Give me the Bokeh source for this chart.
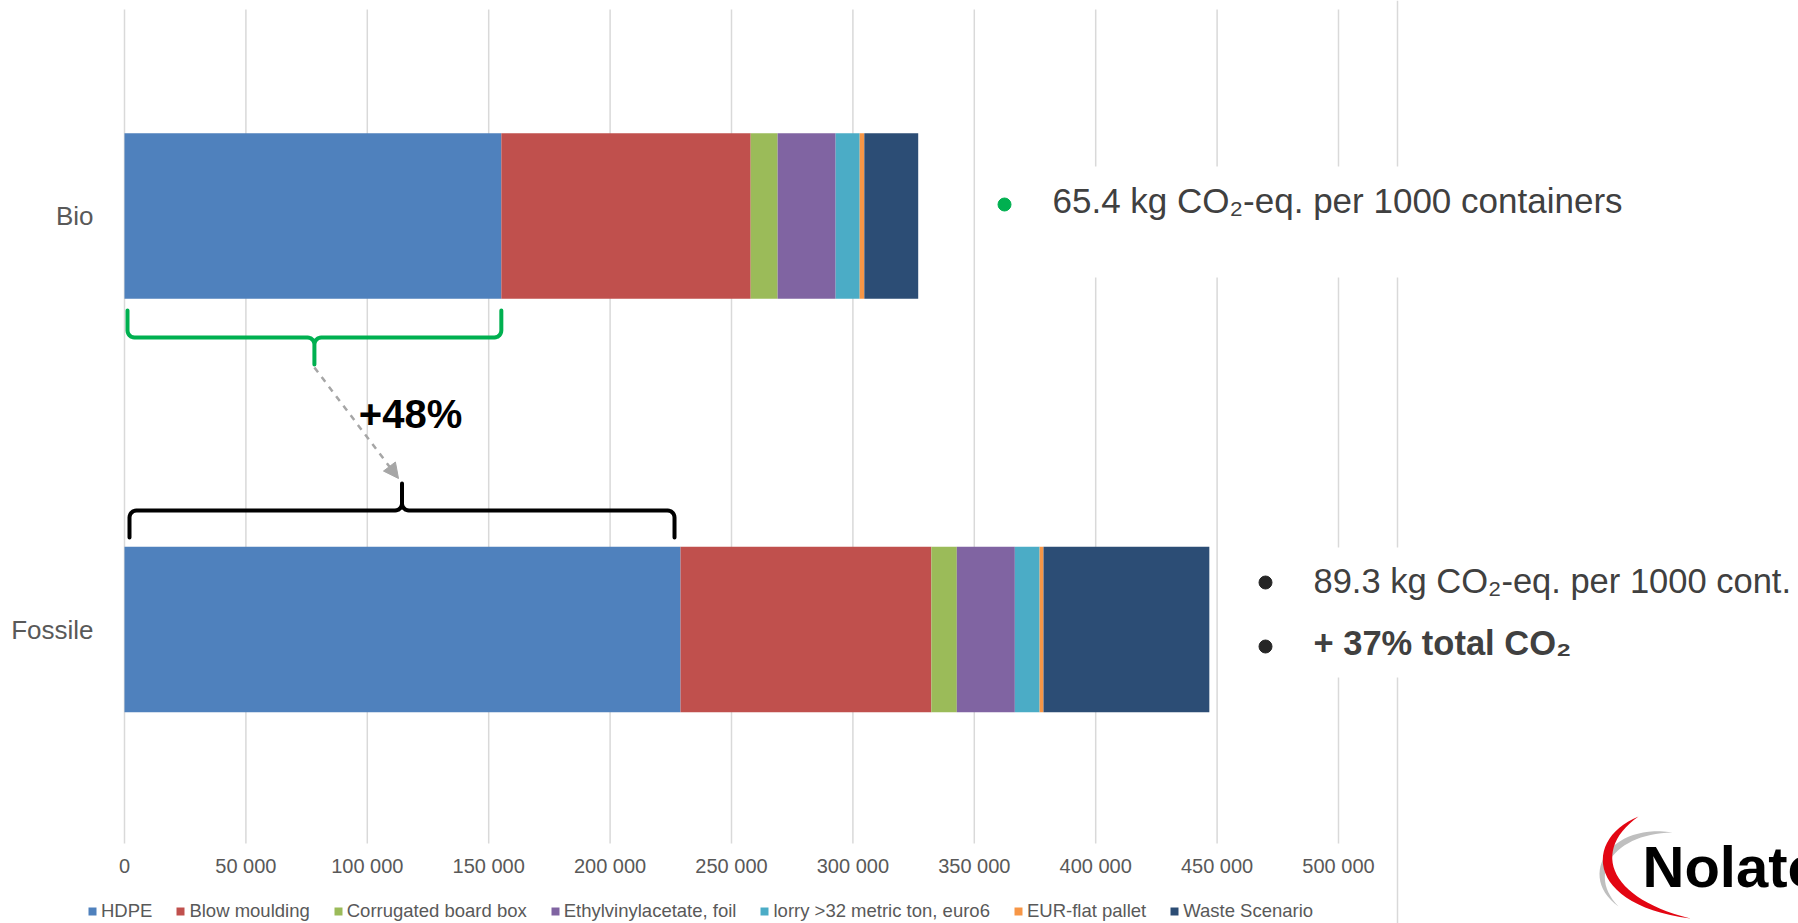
import numpy as np
from bokeh.plotting import figure
from bokeh.models import (ColumnDataSource, Range1d, FixedTicker, Span, Label,
                          Arrow, NormalHead, PolyAnnotation)
from bokeh.core.properties import value
from bokeh.embed import file_html
from bokeh.resources import INLINE

# ---------------- data ----------------
categories = ["Bio", "Fossile"]
series = ["HDPE", "Blow moulding", "Corrugated board box", "Ethylvinylacetate, foil",
          "lorry >32 metric ton, euro6", "EUR-flat pallet", "Waste Scenario"]
bio_values = [155200, 102700, 11100, 23900, 9900, 1900, 22200]
fossile_values = [229000, 103300, 10500, 23900, 10200, 1600, 68300]
colors = ["#4F81BD", "#C0504D", "#9BBB59", "#8064A2", "#4BACC6", "#F79646", "#2C4D75"]
x_ticks = [0, 50000, 100000, 150000, 200000, 250000, 300000, 350000, 400000, 450000, 500000]
x_tick_labels = ["0", "50 000", "100 000", "150 000", "200 000", "250 000", "300 000",
                 "350 000", "400 000", "450 000", "500 000"]
bio_note = "65.4 kg CO\u2082-eq. per 1000 containers"
fossile_note = "89.3 kg CO\u2082-eq. per 1000 cont."
fossile_note_bold = "+ 37% total CO\u2082"
increase_label = "+48%"
logo_text = "Nolato"

FONT = "Liberation Sans"
W, H = 1798, 923

# ---------------- canvas px <-> data helpers (for annotation placement) ----------------
K = 1214 / 500000.0      # px per unit
X0PX = 124.0             # canvas x of value 0
Y1PX = 629.0             # canvas y of category position 1
UNIT = 413.5             # px per category unit


def px2x(px):
    return (px - X0PX) / K


def px2y(py):
    return 1 + (Y1PX - py) / UNIT


y_pos = [len(categories) - i for i in range(len(categories))]  # Bio=2, Fossile=1

data = {"y": y_pos}
for i, s in enumerate(series):
    data[s] = [bio_values[i], fossile_values[i]]
source = ColumnDataSource(data)

p = figure(width=W, height=H, output_backend="svg", toolbar_location=None,
           x_range=Range1d(px2x(0), px2x(W)), y_range=Range1d(px2y(H), px2y(0)),
           min_border=0)
p.outline_line_color = None
p.background_fill_color = "white"
p.border_fill_color = "white"

# vertical grid lines (limited to the plot area) and separator line
grid_top, grid_bottom = px2y(9), px2y(843)
p.segment(x0=x_ticks, x1=x_ticks, y0=[grid_bottom] * len(x_ticks), y1=[grid_top] * len(x_ticks),
          line_color="#D9D9D9", line_width=1.5, level="underlay")
p.add_layout(Span(location=px2x(1397), dimension="height", line_color="#D9D9D9",
                  line_width=1.5, level="underlay"))
p.xgrid.visible = False
p.ygrid.visible = False

p.hbar_stack(series, y="y", height=0.4, color=colors, source=source,
             legend_label=series, line_color=None)

# axes (drawn inside the canvas at fixed data locations)
p.xaxis.fixed_location = grid_bottom
p.xaxis.ticker = FixedTicker(ticks=x_ticks)
p.xaxis.major_label_overrides = dict(zip(x_ticks, x_tick_labels))
p.xaxis.axis_line_color = None
p.xaxis.major_tick_line_color = None
p.xaxis.minor_tick_line_color = None
p.xaxis.major_label_text_font = FONT
p.xaxis.major_label_text_font_size = "20px"
p.xaxis.major_label_text_color = "#595959"
p.xaxis.major_label_standoff = 5

p.yaxis.fixed_location = px2x(110)
p.yaxis.ticker = FixedTicker(ticks=y_pos)
p.yaxis.major_label_overrides = dict(zip(y_pos, categories))
p.yaxis.axis_line_color = None
p.yaxis.major_tick_line_color = None
p.yaxis.minor_tick_line_color = None
p.yaxis.major_label_text_font = FONT
p.yaxis.major_label_text_font_size = "26px"
p.yaxis.major_label_text_color = "#595959"
p.yaxis.major_label_standoff = 11

# legend
lg = p.legend[0]
lg.orientation = "horizontal"
lg.location = (87, 1)
lg.border_line_color = None
lg.background_fill_alpha = 0
lg.label_text_font = FONT
lg.label_text_font_size = "18.5px"
lg.label_text_color = "#595959"
lg.glyph_width = 10
lg.glyph_height = 10
lg.label_standoff = 4
lg.spacing = 23
lg.padding = 0
lg.margin = 0

# white boxes behind the notes
p.quad(left=[px2x(990), px2x(1225)], right=[px2x(W + 10), px2x(W + 10)],
       top=[px2y(166), px2y(547)], bottom=[px2y(277), px2y(677)],
       fill_color="white", line_color=None)

# notes
p.scatter(x=[px2x(1004)], y=[px2y(204)], size=13, color="#00B050")
p.text(x=[px2x(1052)], y=[px2y(200)], text=[bio_note], text_font=value(FONT),
       text_font_size="35px", text_baseline="middle", text_color="#404040")
p.scatter(x=[px2x(1265), px2x(1265)], y=[px2y(582), px2y(646)], size=13, color="#262626")
p.text(x=[px2x(1313)], y=[px2y(580)], text=[fossile_note], text_font=value(FONT),
       text_font_size="34.5px", text_baseline="middle", text_color="#404040")
p.text(x=[px2x(1313)], y=[px2y(642)], text=[fossile_note_bold], text_font=value(FONT),
       text_font_size="34.5px", text_font_style="bold", text_baseline="middle",
       text_color="#404040")


# braces
def brace(x0, x1, y_end, y_mid, y_tip, r=7, n=7):
    """Brace path in canvas px: ends at y_end, bar at y_mid, cusp at y_tip."""
    xm = (x0 + x1) / 2.0
    s = 1 if y_mid > y_end else -1   # direction from ends to bar (and to tip)
    th = np.linspace(0, np.pi / 2, n)
    pts = [(x0, y_end)]
    for t in th:   # left corner
        pts.append((x0 + r - r * np.cos(t), y_mid - s * r + s * r * np.sin(t)))
    for t in th:   # shoulder towards cusp
        pts.append((xm - r + r * np.sin(t), y_mid + s * r * (1 - np.cos(t))))
    pts.append((xm, y_tip))
    for t in th[::-1]:
        pts.append((xm + r - r * np.sin(t), y_mid + s * r * (1 - np.cos(t))))
    for t in th[::-1]:   # right corner
        pts.append((x1 - r + r * np.cos(t), y_mid - s * r + s * r * np.sin(t)))
    pts.append((x1, y_end))
    return [px2x(a) for a, b in pts], [px2y(b) for a, b in pts]


gx0 = X0PX + 3
gx1 = X0PX + bio_values[0] * K
bx, by = brace(gx0, gx1, 310, 337, 364)
p.line(bx, by, line_color="#00B050", line_width=4, line_join="round", line_cap="round")

fx0 = X0PX + 5
fx1 = X0PX + fossile_values[0] * K - 6
bx2, by2 = brace(fx0, fx1, 537, 510, 483)
p.line(bx2, by2, line_color="black", line_width=4, line_join="round", line_cap="round")

p.add_layout(Arrow(end=NormalHead(size=15, fill_color="#A6A6A6", line_color="#A6A6A6"),
                   x_start=px2x((gx0 + gx1) / 2), y_start=px2y(367),
                   x_end=px2x(398), y_end=px2y(478),
                   line_color="#A6A6A6", line_width=2.5, line_dash="dashed"))

p.text(x=[px2x(410)], y=[px2y(413)], text=[increase_label], text_font=value(FONT),
       text_font_size="40px", text_font_style="bold", text_align="center",
       text_baseline="middle", text_color="black")


# logo
def bez(p0, p1, p2, p3, n=30):
    t = np.linspace(0, 1, n)[:, None]
    p0, p1, p2, p3 = (np.array(q, dtype=float) for q in (p0, p1, p2, p3))
    return (1 - t) ** 3 * p0 + 3 * (1 - t) ** 2 * t * p1 + 3 * (1 - t) * t ** 2 * p2 + t ** 3 * p3


def crescent(outer, inner):
    pts = np.vstack([bez(*outer), bez(*inner)])
    return [px2x(a) for a in pts[:, 0]], [px2y(b) for b in pts[:, 1]]


gxs, gys = crescent(((1672, 832), (1610, 822), (1575, 875), (1618, 906)),
                    ((1618, 906), (1585, 872), (1615, 833), (1672, 832)))
p.add_layout(PolyAnnotation(xs=gxs, ys=gys, fill_color="#BFBFBF", fill_alpha=1,
                            line_alpha=0))
rxs, rys = crescent(((1638, 816), (1583, 838), (1585, 905), (1690, 918)),
                    ((1690, 918), (1608, 898), (1590, 850), (1638, 816)))
p.add_layout(PolyAnnotation(xs=rxs, ys=rys, fill_color="#E30613", fill_alpha=1,
                            line_alpha=0))
p.add_layout(Label(x=px2x(1642), y=px2y(866), text=logo_text, text_font=FONT,
                   text_font_style="bold", text_font_size="58px", text_baseline="middle",
                   text_color="black"))

open("out.html", "w").write(file_html(p, INLINE))
